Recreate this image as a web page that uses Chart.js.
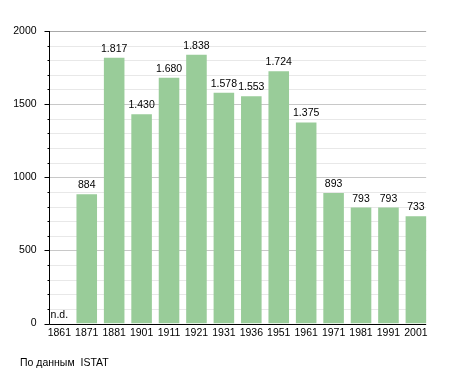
<!DOCTYPE html>
<html>
<head>
<meta charset="utf-8">
<script src="https://cdn.jsdelivr.net/npm/chart.js@4/dist/chart.umd.min.js"></script>
<style>
html,body{margin:0;padding:0;background:#fff;}
#wrap{position:relative;width:455px;height:373px;}
#src{position:absolute;left:20px;top:356px;font:10.5px "Liberation Sans",Arial,sans-serif;line-height:12px;color:#000;white-space:pre;}
</style>
</head>
<body>
<div id="wrap">
<canvas id="c" width="455" height="373"></canvas>
<div id="src">По данным  ISTAT</div>
</div>
<script>
const years = ['1861','1871','1881','1901','1911','1921','1931','1936','1951','1961','1971','1981','1991','2001'];
const population = [null, 884, 1817, 1430, 1680, 1838, 1578, 1553, 1724, 1375, 893, 793, 793, 733];
const yTicks = [0, 500, 1000, 1500, 2000];
const missingLabel = 'n.d.';

const FONT = '"Liberation Sans", Arial, sans-serif';
const fmt = v => String(v).replace(/\B(?=(\d{3})+(?!\d))/g, '.');

const decor = {
  id: 'decor',
  bounds(chart) {
    const xs = chart.scales.x;
    const meta = chart.getDatasetMeta(0);
    let bw = 0;
    meta.data.forEach(b => { if (b && isFinite(b.width) && b.width > bw) bw = b.width; });
    const left = xs.getPixelForValue(0) - bw / 2;
    const right = xs.getPixelForValue(years.length - 1) + bw / 2;
    return {left, right};
  },
  beforeDatasetsDraw(chart) {
    const ctx = chart.ctx, ys = chart.scales.y;
    const {left, right} = this.bounds(chart);
    ctx.save();
    ctx.lineWidth = 1;
    for (let v = 100; v <= 2000; v += 100) {
      const py = Math.round(ys.getPixelForValue(v)) + 0.5;
      ctx.strokeStyle = v === 2000 ? '#a8a8a8' : (v % 500 === 0 ? '#c8c8c8' : '#e8e8e8');
      ctx.beginPath(); ctx.moveTo(left, py); ctx.lineTo(right, py); ctx.stroke();
    }
    ctx.restore();
  },
  afterDatasetsDraw(chart) {
    const ctx = chart.ctx, ys = chart.scales.y, xs = chart.scales.x;
    const {left, right} = this.bounds(chart);
    const ax = Math.round(left) + 0.5;
    const y0 = Math.round(ys.getPixelForValue(0)) + 0.5;
    const yTop = Math.round(ys.getPixelForValue(2000)) + 0.5;
    ctx.save();
    ctx.strokeStyle = '#000';
    ctx.lineWidth = 1;
    ctx.beginPath();
    ctx.moveTo(ax, yTop - 0.5); ctx.lineTo(ax, y0);
    ctx.moveTo(ax, y0); ctx.lineTo(right, y0);
    for (let v = 0; v <= 2000; v += 100) {
      const py = Math.round(ys.getPixelForValue(v)) + 0.5;
      const len = v % 500 === 0 ? 5 : 2;
      ctx.moveTo(ax - len, py); ctx.lineTo(ax, py);
    }
    ctx.stroke();
    ctx.fillStyle = '#000';
    ctx.font = '10.5px ' + FONT;
    ctx.textAlign = 'center';
    ctx.textBaseline = 'alphabetic';
    population.forEach((v, i) => {
      const px = xs.getPixelForValue(i);
      const top = ys.getPixelForValue(v == null ? 0 : v);
      ctx.fillText(v == null ? missingLabel : fmt(v), px, top - 6);
    });
    ctx.restore();
  }
};

new Chart(document.getElementById('c'), {
  type: 'bar',
  data: {
    labels: years,
    datasets: [{
      data: population,
      backgroundColor: '#99cc99',
      borderWidth: 0,
      barPercentage: 0.75,
      categoryPercentage: 1.0
    }]
  },
  options: {
    responsive: false,
    animation: false,
    layout: { padding: { left: 0, right: 25.4, top: 31, bottom: 29.5 } },
    plugins: { legend: { display: false }, tooltip: { enabled: false } },
    scales: {
      x: {
        offset: true,
        grid: { display: false, drawTicks: false },
        border: { display: false },
        ticks: { color: '#000', font: { size: 10.5, family: FONT }, padding: 3, maxRotation: 0, autoSkip: false },
        afterFit(s) { s.height = 20; }
      },
      y: {
        min: 0, max: 2000,
        afterBuildTicks(s) { s.ticks = yTicks.map(v => ({ value: v })); },
        grid: { display: false, drawTicks: false },
        border: { display: false },
        ticks: { color: '#000', font: { size: 10.5, family: FONT }, padding: 9, callback: v => String(v) },
        afterFit(s) { s.width = 45.6; }
      }
    }
  },
  plugins: [decor]
});
</script>
</body>
</html>
